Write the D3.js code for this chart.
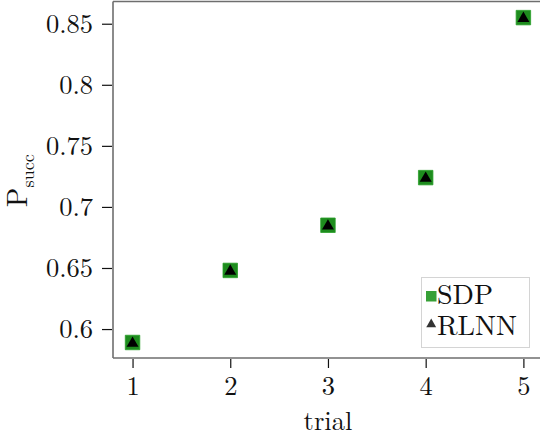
<!DOCTYPE html>
<html>
<head>
<meta charset="utf-8">
<script src="https://cdn.jsdelivr.net/npm/d3@7"></script>
<style>
  html, body { margin: 0; padding: 0; background: #fff; }
  svg { display: block; }
</style>
</head>
<body>
<script>
// Success probability per trial for the two methods
const trials = [1, 2, 3, 4, 5];
const sdpValues = [0.589, 0.648, 0.685, 0.724, 0.855];
const rlnnValues = [0.589, 0.648, 0.685, 0.724, 0.855];
const xTickValues = [1, 2, 3, 4, 5];
const yTickValues = [0.6, 0.65, 0.7, 0.75, 0.8, 0.85];
const seriesNames = ["SDP", "RLNN"];

const FONT = "'Latin Modern Roman', 'Liberation Serif', serif";
const width = 540, height = 438;
const plot = { left: 113, right: 540, top: 1.5, bottom: 358 };

const svg = d3.select("body").append("svg")
  .attr("width", width).attr("height", height);

const x = d3.scaleLinear().domain([0.8, 5.17]).range([plot.left, plot.right]);
const y = d3.scaleLinear().domain([0.5763, 0.8682]).range([plot.bottom, plot.top]);

// frame: left, top and bottom edges
const frame = svg.append("g")
  .attr("stroke", "#6e6e6e").attr("stroke-width", 1.6).attr("fill", "none");
frame.append("line").attr("x1", plot.left).attr("x2", plot.left)
  .attr("y1", plot.top).attr("y2", plot.bottom);
frame.append("line").attr("x1", plot.left).attr("x2", plot.right)
  .attr("y1", plot.top).attr("y2", plot.top);
frame.append("line").attr("x1", plot.left).attr("x2", plot.right)
  .attr("y1", plot.bottom).attr("y2", plot.bottom);

// axes
const fmtY = d => String(+d.toFixed(2));
const yAxis = svg.append("g")
  .attr("transform", `translate(${plot.left - 1},0)`)
  .call(d3.axisLeft(y).tickValues(yTickValues).tickFormat(fmtY)
    .tickSizeOuter(0).tickSizeInner(10).tickPadding(9));
const xAxis = svg.append("g")
  .attr("transform", `translate(0,${plot.bottom + 1})`)
  .call(d3.axisBottom(x).tickValues(xTickValues).tickFormat(d3.format("d"))
    .tickSizeOuter(0).tickSizeInner(9).tickPadding(8));
[yAxis, xAxis].forEach(g => {
  g.attr("font-family", null).attr("font-size", null);
  g.select(".domain").remove();
  g.selectAll(".tick line").attr("stroke", "#111").attr("stroke-width", 1.2);
  g.selectAll(".tick text")
    .style("font-family", FONT)
    .style("font-size", "26.5px").attr("fill", "#111");
});

// axis titles
svg.append("text")
  .attr("x", x(3)).attr("y", 430)
  .attr("text-anchor", "middle")
  .style("font-family", FONT).style("font-size", "26.5px").attr("fill", "#111")
  .text("trial");

const ylab = svg.append("text")
  .attr("transform", `translate(27,${(plot.top + plot.bottom) / 2 + 1}) rotate(-90)`)
  .attr("text-anchor", "middle")
  .style("font-family", FONT).style("font-size", "29px").attr("fill", "#111");
ylab.append("tspan").text("P");
ylab.append("tspan").attr("dy", 7).style("font-size", "18px").text("succ");

// markers
const pts = trials.map((t, i) => ({ t, sdp: sdpValues[i], rlnn: rlnnValues[i] }));
const sq = d3.symbol().type(d3.symbolSquare).size(14.5 * 14.5);
const tri = d3.symbol().type(d3.symbolTriangle).size(62);

svg.append("g").selectAll("path").data(pts).join("path")
  .attr("d", sq)
  .attr("transform", d => `translate(${x(d.t)},${y(d.sdp)})`)
  .attr("fill", "#1e8c1e").attr("stroke", "#2aa02a").attr("stroke-width", 0.8);

svg.append("g").selectAll("path").data(pts).join("path")
  .attr("d", tri)
  .attr("transform", d => `translate(${x(d.t)},${y(d.rlnn) + 0.8})`)
  .attr("fill", "#000");

// legend
const lg = svg.append("g");
lg.append("rect").attr("x", 421.5).attr("y", 277.5).attr("width", 108).attr("height", 70)
  .attr("fill", "#fff").attr("stroke", "#d4d4d4").attr("stroke-width", 1);
lg.append("rect").attr("x", 426).attr("y", 291).attr("width", 10.5).attr("height", 10.5)
  .attr("fill", "#36a036");
lg.append("path").attr("d", d3.symbol().type(d3.symbolTriangle).size(42))
  .attr("transform", "translate(431.2,324.3)").attr("fill", "#333");
lg.selectAll("text.entry").data(seriesNames).join("text")
  .attr("class", "entry")
  .attr("x", 437).attr("y", (d, i) => 303.5 + i * 31)
  .style("font-family", FONT).style("font-size", "28px").attr("fill", "#111")
  .text(d => d);
</script>
</body>
</html>
